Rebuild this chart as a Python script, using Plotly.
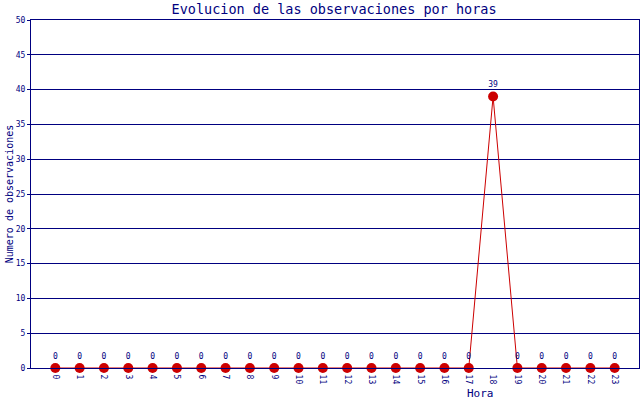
import plotly.graph_objects as go

horas = list(range(24))
observaciones = [0, 0, 0, 0, 0, 0, 0, 0, 0, 0, 0, 0,
                 0, 0, 0, 0, 0, 0, 39, 0, 0, 0, 0, 0]
y_ticks = list(range(0, 51, 5))

navy = "#000080"
rojo = "#CC0000"
fuente = "DejaVu Sans Mono"

fig = go.Figure()
fig.add_trace(go.Scatter(
    x=horas,
    y=observaciones,
    mode="lines+markers+text",
    line=dict(color=rojo, width=1),
    marker=dict(color=rojo, size=10),
    text=[str(v) for v in observaciones],
    textposition="top center",
    textfont=dict(family=fuente, size=8, color=navy),
    cliponaxis=False,
))

fig.update_layout(
    width=640, height=400,
    margin=dict(l=31, r=1, t=20, b=32, autoexpand=False),
    paper_bgcolor="white",
    plot_bgcolor="white",
    showlegend=False,
    font=dict(family=fuente, color=navy),
    title=dict(text="Evolucion de las observaciones por horas",
               x=0.522, xanchor="center", y=0.977, yanchor="middle",
               font=dict(family=fuente, size=13.5, color=navy)),
)
# el titulo del eje x no esta centrado en el original
fig.add_annotation(text="Hora", xref="paper", yref="paper",
                   x=0.74, y=-0.072, xanchor="center", yanchor="middle",
                   showarrow=False, font=dict(family=fuente, size=11, color=navy))
fig.update_xaxes(
    automargin=False,
    range=[-1, 24],
    tickvals=horas,
    ticktext=[str(h) for h in horas],
    tickangle=90,
    ticklabelstandoff=4,
    tickfont=dict(family=fuente, size=8, color=navy),
    showgrid=False,
    zeroline=False,
    showline=True, linecolor=navy, linewidth=1, mirror=True,
)
fig.update_yaxes(
    automargin=False,
    range=[0, 50],
    tickvals=y_ticks,
    tickfont=dict(family=fuente, size=8, color=navy),
    ticks="outside", ticklen=3, tickcolor=navy,
    showgrid=True, gridcolor=navy, gridwidth=1,
    zeroline=False,
    showline=True, linecolor=navy, linewidth=1, mirror=True,
    title=dict(text="Numero de observaciones", font=dict(family=fuente, size=10, color=navy), standoff=0),
)

# quitar el margen del body para que el grafico ocupe la ventana entera
fig.write_html("out.html", config={"displayModeBar": False},
               post_script="document.body.style.margin='0';document.body.style.overflow='hidden';")
